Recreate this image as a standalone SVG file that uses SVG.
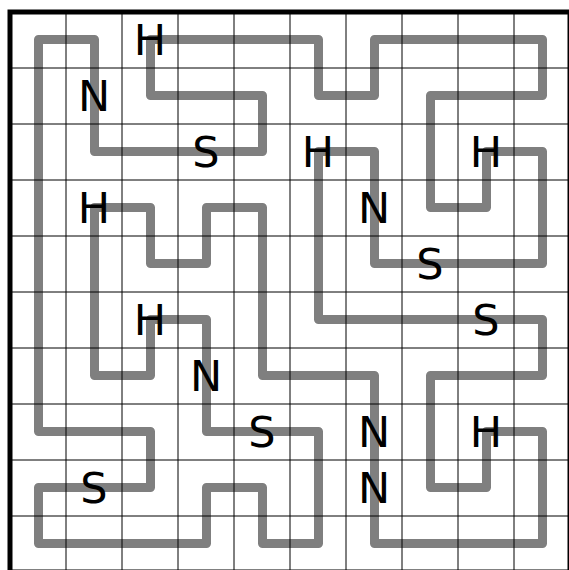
<svg xmlns="http://www.w3.org/2000/svg" width="569" height="570" viewBox="0 0 569 570">
<style>
.grid line{stroke:#000;stroke-width:1}
.loop{fill:none;stroke:#000;stroke-opacity:0.5;stroke-width:9;stroke-linejoin:round}
.lbl{font-family:"DejaVu Sans",sans-serif;font-size:43px;fill:#000;text-anchor:middle}
</style>
<rect x="0" y="0" width="569" height="570" fill="#fff"/>
<g id="grid" class="grid">
<line x1="66" y1="12" x2="66" y2="572"/>
<line x1="122" y1="12" x2="122" y2="572"/>
<line x1="178" y1="12" x2="178" y2="572"/>
<line x1="234" y1="12" x2="234" y2="572"/>
<line x1="290" y1="12" x2="290" y2="572"/>
<line x1="346" y1="12" x2="346" y2="572"/>
<line x1="402" y1="12" x2="402" y2="572"/>
<line x1="458" y1="12" x2="458" y2="572"/>
<line x1="514" y1="12" x2="514" y2="572"/>
<line x1="10" y1="68" x2="570" y2="68"/>
<line x1="10" y1="124" x2="570" y2="124"/>
<line x1="10" y1="180" x2="570" y2="180"/>
<line x1="10" y1="236" x2="570" y2="236"/>
<line x1="10" y1="292" x2="570" y2="292"/>
<line x1="10" y1="348" x2="570" y2="348"/>
<line x1="10" y1="404" x2="570" y2="404"/>
<line x1="10" y1="460" x2="570" y2="460"/>
<line x1="10" y1="516" x2="570" y2="516"/>
</g>
<rect id="border" x="10" y="12" width="560" height="560" fill="none" stroke="#000" stroke-width="5"/>
<g id="connectors">
<path class="loop" d="M38.5,39.5 H94.5 V151.5 H262.5 V95.5 H150.5 V39.5 H318.5 V95.5 H374.5 V39.5 H542.5 V95.5 H430.5 V207.5 H486.5 V151.5 H542.5 V263.5 H374.5 V151.5 H318.5 V319.5 H542.5 V375.5 H430.5 V487.5 H486.5 V431.5 H542.5 V543.5 H374.5 V375.5 H262.5 V207.5 H206.5 V263.5 H150.5 V207.5 H94.5 V375.5 H150.5 V319.5 H206.5 V431.5 H318.5 V543.5 H262.5 V487.5 H206.5 V543.5 H38.5 V487.5 H150.5 V431.5 H38.5 Z"/>
</g>
<g id="labels" class="lbl">
<g id="c2-0"><text x="150" y="54.5">H</text></g>
<g id="c1-1"><text x="94" y="110.5">N</text></g>
<g id="c3-2"><text x="206" y="166.5">S</text></g>
<g id="c5-2"><text x="318" y="166.5">H</text></g>
<g id="c8-2"><text x="486" y="166.5">H</text></g>
<g id="c1-3"><text x="94" y="222.5">H</text></g>
<g id="c6-3"><text x="374" y="222.5">N</text></g>
<g id="c7-4"><text x="430" y="278.5">S</text></g>
<g id="c2-5"><text x="150" y="334.5">H</text></g>
<g id="c8-5"><text x="486" y="334.5">S</text></g>
<g id="c3-6"><text x="206" y="390.5">N</text></g>
<g id="c4-7"><text x="262" y="446.5">S</text></g>
<g id="c6-7"><text x="374" y="446.5">N</text></g>
<g id="c8-7"><text x="486" y="446.5">H</text></g>
<g id="c1-8"><text x="94" y="502.5">S</text></g>
<g id="c6-8"><text x="374" y="502.5">N</text></g>
</g>
</svg>
